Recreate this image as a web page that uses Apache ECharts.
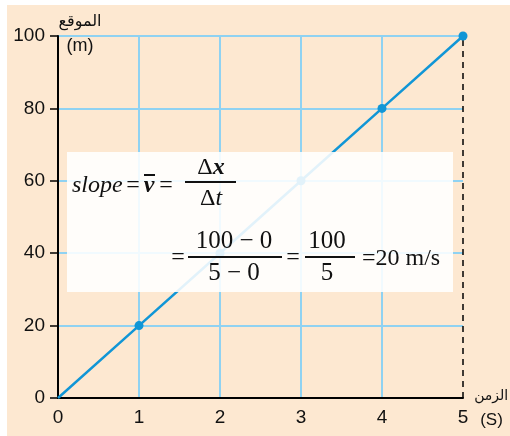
<!DOCTYPE html>
<html><head><meta charset="utf-8">
<script src="https://cdn.jsdelivr.net/npm/echarts@6/dist/echarts.min.js"></script>
<style>html,body{margin:0;padding:0;background:#fff}#c{width:510px;height:436px}</style>
</head><body><div id="c"></div>
<script>
const times = [0, 1, 2, 3, 4, 5];
const positions = [0, 20, 40, 60, 80, 100];
const yAxisName = 'الموقع';
const yUnit = '(m)';
const xAxisName = 'الزمن';
const xUnit = '(S)';

const BLUE = '#1196d6';
const GRID = '#8fd2f2';
const serif = '"Liberation Serif","DejaVu Serif",serif';
const sans = '"Liberation Sans",Arial,sans-serif';

const seriesData = times.map((t, i) => i === 0 ? {value: [t, positions[i]], symbol: 'none'} : [t, positions[i]]);

const chart = echarts.init(document.getElementById('c'));
function txt(x, y, text, font, align) {
  return {type: 'text', x: x, y: y, z: 100, style: {text: text, font: font, fill: '#111', align: align || 'center', verticalAlign: 'middle'}};
}
function bar(x1, x2, y) {
  return {type: 'line', z: 100, shape: {x1: x1, y1: y, x2: x2, y2: y}, style: {stroke: '#111', lineWidth: 2}};
}
chart.setOption({
  backgroundColor: '#fff',
  animation: false,
  grid: {left: 58, right: 47, top: 36, bottom: 38, outerBoundsMode: 'none', containLabel: false},
  xAxis: {
    type: 'value', min: 0, max: 5, interval: 1,
    axisLine: {lineStyle: {color: '#000', width: 2}},
    axisTick: {show: false},
    axisLabel: {color: '#111', fontSize: 19, fontFamily: sans, margin: 10},
    splitLine: {show: true, showMinLine: false, showMaxLine: false, lineStyle: {color: GRID, width: 2}},
    name: '{a|' + xAxisName + '}\n{b|' + xUnit + '}',
    nameLocation: 'end', nameGap: 8,
    nameTextStyle: {align: 'left', verticalAlign: 'middle', padding: [20, 0, 0, 0],
      rich: {a: {fontSize: 14, lineHeight: 24, color: '#111', fontFamily: '"Noto Sans","DejaVu Sans",sans-serif'},
             b: {fontSize: 17, lineHeight: 24, color: '#111', padding: [0, 0, 0, 6], fontFamily: sans}}}
  },
  yAxis: {
    type: 'value', min: 0, max: 100, interval: 20,
    axisLine: {show: true, lineStyle: {color: '#000', width: 2}},
    axisTick: {show: true, length: 8, lineStyle: {color: '#000', width: 1.5}},
    axisLabel: {color: '#111', fontSize: 19, fontFamily: sans, margin: 13},
    splitLine: {show: true, showMinLine: false, lineStyle: {color: GRID, width: 2}},
    name: '{a|' + yAxisName + '}\n{b|' + yUnit + '}',
    nameLocation: 'end', nameGap: 2,
    nameTextStyle: {align: 'center', verticalAlign: 'middle', padding: [0, 0, 0, 44],
      rich: {a: {fontSize: 16, lineHeight: 25, color: '#111', fontFamily: '"Noto Sans","DejaVu Sans",sans-serif'},
             b: {fontSize: 18, lineHeight: 25, color: '#111', fontFamily: sans}}}
  },
  series: [{
    type: 'line', data: seriesData, z: 5,
    symbol: 'circle', symbolSize: 9, showAllSymbol: true,
    lineStyle: {color: BLUE, width: 2.5},
    itemStyle: {color: BLUE},
    markLine: {
      silent: true, symbol: 'none', label: {show: false},
      lineStyle: {color: '#000', type: [6, 5], width: 1.5},
      data: [[{coord: [times[5], positions[0]]}, {coord: [times[5], positions[5]]}]]
    }
  }],
  graphic: [
    {type: 'rect', z: -10, silent: true, shape: {x: 7, y: 5, width: 503, height: 431}, style: {fill: '#fde8d1'}},
    {type: 'rect', z: 90, shape: {x: 67, y: 152, width: 386, height: 140}, style: {fill: 'rgba(255,255,255,0.88)'}},
    txt(72, 186, 'slope', 'italic 24px ' + serif, 'left'),
    txt(133, 186, '=', '24px ' + serif),
    txt(149, 186, 'v', 'bold italic 24px ' + serif),
    bar(144, 155, 175),
    txt(166, 186, '=', '24px ' + serif),
    {type: 'text', x: 211, y: 168, z: 100, style: {text: '{d|Δ}{x|x}', align: 'center', verticalAlign: 'middle',
      rich: {d: {font: '24px ' + serif, fill: '#111'}, x: {font: 'bold italic 24px ' + serif, fill: '#111'}}}},
    bar(185, 236, 182),
    {type: 'text', x: 211, y: 199, z: 100, style: {text: '{d|Δ}{t|t}', align: 'center', verticalAlign: 'middle',
      rich: {d: {font: '24px ' + serif, fill: '#111'}, t: {font: 'italic 24px ' + serif, fill: '#111'}}}},
    txt(178, 258, '=', '24px ' + serif),
    txt(234, 241, '100 − 0', '25px ' + serif),
    bar(188, 282, 257),
    txt(234, 273, '5 − 0', '25px ' + serif),
    txt(293, 258, '=', '24px ' + serif),
    txt(327, 241, '100', '25px ' + serif),
    bar(305, 355, 257),
    txt(327, 273, '5', '25px ' + serif),
    txt(362, 259, '=20 m/s', '24px ' + serif, 'left')
  ]
});
</script></body></html>
